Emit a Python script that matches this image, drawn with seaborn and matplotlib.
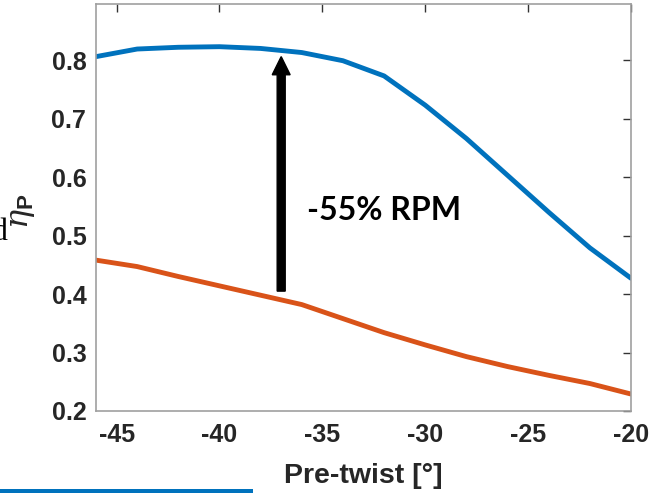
import matplotlib
matplotlib.use("Agg")
import matplotlib.pyplot as plt
import seaborn as sns
import pandas as pd
from matplotlib.patches import Rectangle

# ---- data ----
pretwist = [-46, -44, -42, -40, -38, -36, -34, -32, -30, -28, -26, -24, -22, -20]
eta_high = [0.806, 0.819, 0.822, 0.823, 0.820, 0.813, 0.799, 0.773, 0.723, 0.666, 0.603, 0.540, 0.479, 0.427]
eta_low = [0.458, 0.447, 0.430, 0.414, 0.398, 0.382, 0.358, 0.334, 0.313, 0.293, 0.276, 0.261, 0.247, 0.229]
xticks = [-45, -40, -35, -30, -25, -20]
yticks = [0.2, 0.3, 0.4, 0.5, 0.6, 0.7, 0.8]
annot_text = "-55% RPM"

sns.set_style("white")
plt.rcParams["font.family"] = ["Liberation Sans", "DejaVu Sans"]
plt.rcParams["mathtext.fontset"] = "custom"
plt.rcParams["mathtext.it"] = "DejaVu Serif:italic"
plt.rcParams["mathtext.rm"] = "Liberation Sans"
plt.rcParams["mathtext.bf"] = "Liberation Sans:bold"

BLUE = "#0072BD"
ORANGE = "#D95319"
TXT = "#262626"

df = pd.DataFrame({"x": pretwist, "high": eta_high, "low": eta_low})

fig = plt.figure(figsize=(6.6, 4.93), dpi=100)
ax = fig.add_axes([96 / 660, 1 - 411 / 493, 535 / 660, 407 / 493])

sns.lineplot(data=df, x="x", y="high", ax=ax, color=BLUE, lw=3.5)
sns.lineplot(data=df, x="x", y="low", ax=ax, color=ORANGE, lw=3.5)

ax.set_xlim(-46, -20)
ax.set_ylim(0.2, 0.896)
ax.set_xticks(xticks)
ax.set_yticks(yticks)
ax.set_xticklabels([f"{t:d}" for t in xticks])
ax.set_yticklabels([f"{t:.1f}" for t in yticks])

for s in ax.spines.values():
    s.set_visible(True)
    s.set_color("#a0a0a0")
    s.set_linewidth(1.2)

ax.tick_params(axis="both", direction="in", length=6, width=1, color="#333333",
               top=True, right=True, labelsize=18, labelcolor=TXT)
ax.tick_params(axis="x", pad=9)
ax.tick_params(axis="y", pad=7)
for lab in ax.get_xticklabels() + ax.get_yticklabels():
    lab.set_fontweight("bold")

ax.set_xlabel("Pre-twist [°]", fontsize=20.5, fontweight="bold", color=TXT, labelpad=11)
ax.set_ylabel(r"$\eta_{\mathbf{P}}$", fontsize=23, color=TXT)
ax.yaxis.set_label_coords(-0.11, 0.49)

# arrow
ax.arrow(-37, 0.405, 0, 0.401, width=0.39, head_width=0.87, head_length=0.031,
         length_includes_head=True, color="black", zorder=3)
ax.text(-35.77, 0.5265, annot_text, fontfamily=["Lato", "DejaVu Sans"],
        fontweight="bold", fontsize=23, color="black", va="baseline", ha="left")

# cropped fragments at figure edges
fig.text(8 / 660, 1 - 240 / 493, "d", fontfamily=["Liberation Serif"], fontsize=23,
         ha="right", va="baseline", color="black")
fig.patches.append(Rectangle((0, 0), 253 / 660, 4.5 / 493, transform=fig.transFigure,
                             facecolor=BLUE, edgecolor="none"))

fig.savefig("out.png", dpi=100)
